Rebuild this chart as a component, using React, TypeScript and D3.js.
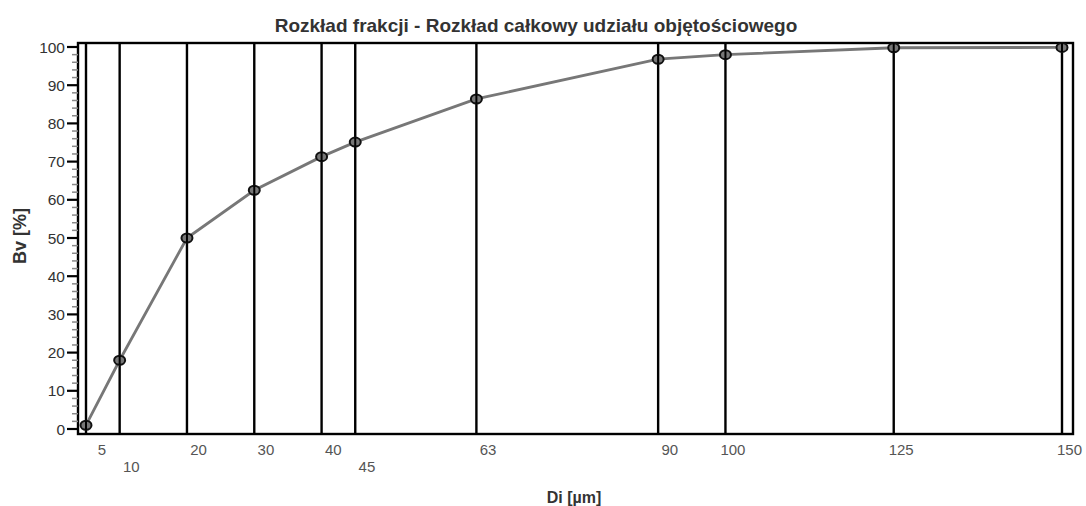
import * as d3 from "d3";
import type { ReactElement } from "react";

// sieve sizes [µm] and cumulative volume fraction [%]
const sizes = [5, 10, 20, 30, 40, 45, 63, 90, 100, 125, 150];
const cumulative = [1.0, 18.0, 50.0, 62.5, 71.3, 75.1, 86.4, 96.8, 98.0, 99.8, 99.9];
// labels pushed to the second row so they don't collide
const secondRow = [10, 45];
const yTickValues = [0, 10, 20, 30, 40, 50, 60, 70, 80, 90, 100];

const TITLE = "Rozkład frakcji - Rozkład całkowy udziału objętościowego";
const X_TITLE = "Di [µm]";
const Y_TITLE = "Bv [%]";

const W = 1086;
const H = 506;
const LEFT = 78;
const RIGHT = 1073;
const TOP = 43;
const BOTTOM = 434;
const FONT = "'Liberation Sans', Arial, sans-serif";

const App = (): ReactElement => {
  const x = d3.scaleLinear().domain([5, 150]).range([86, 1062]);
  const y = d3.scaleLinear().domain([0, 100]).range([429, 47]);

  const points = sizes.map((s, i) => [x(s), y(cumulative[i])] as [number, number]);
  const path = d3.line()(points) ?? "";
  const minor = d3.range(0, 101, 2).filter((v) => v % 10 !== 0);

  return (
    <svg
      width={W}
      height={H}
      style={{ position: "absolute", left: 0, top: 0, background: "#fff" }}
      fontFamily={FONT}
    >
      <text x={536} y={32} textAnchor="middle" fontSize={19} fontWeight="bold" fill="#333">
        {TITLE}
      </text>

      {/* vertical lines at each sieve size */}
      {sizes.map((s) => (
        <line key={`v-${s}`} x1={x(s)} x2={x(s)} y1={TOP} y2={BOTTOM} stroke="#000" strokeWidth={2.4} />
      ))}

      {/* frame */}
      <rect x={LEFT} y={TOP} width={RIGHT - LEFT} height={BOTTOM - TOP} fill="none" stroke="#000" strokeWidth={2.4} />

      {/* y axis ticks */}
      {minor.map((v) => (
        <line key={`m-${v}`} x1={72} x2={LEFT} y1={y(v)} y2={y(v)} stroke="#888" strokeWidth={1.5} />
      ))}
      {yTickValues.map((v) => (
        <g key={`y-${v}`}>
          <line x1={67} x2={LEFT} y1={y(v)} y2={y(v)} stroke="#000" strokeWidth={2.2} />
          <text x={65} y={y(v)} dy="0.36em" textAnchor="end" fontSize={15.5} fill="#333">
            {v}
          </text>
        </g>
      ))}

      {/* x tick labels */}
      {sizes.map((s) => (
        <text
          key={`x-${s}`}
          x={x(s) + 20}
          y={secondRow.includes(s) ? 472 : 455}
          textAnchor="end"
          fontSize={15}
          fill="#555"
        >
          {s}
        </text>
      ))}

      {/* cumulative curve */}
      <path d={path} fill="none" stroke="#777" strokeWidth={2.8} />
      {points.map(([px, py], i) => (
        <g key={`p-${i}`}>
          <ellipse cx={px} cy={py} rx={5.5} ry={4.5} fill="#777" stroke="#111" strokeWidth={2} />
          <line x1={px} x2={px} y1={py - 4.5} y2={py + 4.5} stroke="#000" strokeWidth={2} />
        </g>
      ))}

      <text x={574} y={503} textAnchor="middle" fontSize={16} fontWeight="bold" fill="#333">
        {X_TITLE}
      </text>
      <text
        transform={`translate(26, ${236}) rotate(-90)`}
        textAnchor="middle"
        fontSize={18}
        fontWeight="bold"
        fill="#333"
      >
        {Y_TITLE}
      </text>
    </svg>
  );
};

export default App;
